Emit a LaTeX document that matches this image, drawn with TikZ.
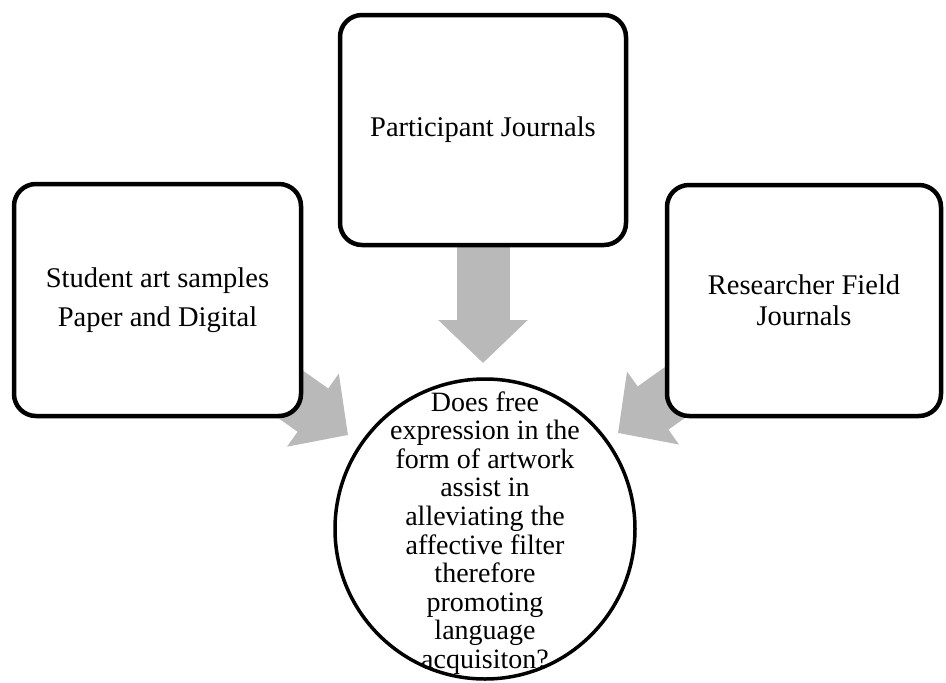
\documentclass[tikz,border=0pt]{standalone}
\usepackage{fontspec}
\setmainfont{Liberation Serif}
\usetikzlibrary{arrows.meta}
\pgfdeclarelayer{background}
\pgfsetlayers{background,main}
\definecolor{arrowgray}{RGB}{185,185,185}
\tikzset{
  srcbox/.style={draw=black, line width=4.5pt, fill=white, rounded corners=22pt,
    align=center, inner sep=0pt, font=\fontsize{28.5}{31}\selectfont},
  qcircle/.style={draw=black, line width=3.5pt, fill=white, circle, inner sep=0pt,
    minimum size=300pt},
  qtext/.style={align=center, inner sep=0pt, font=\fontsize{28}{28.6}\selectfont},
  blockarrow/.style={draw=arrowgray, line width=53pt,
    -{Triangle[width=87pt,length=43pt]}}
}
\begin{document}
\begin{tikzpicture}[x=1pt,y=-1pt]
\useasboundingbox (0,0) rectangle (946,683);
\node[srcbox, minimum width=287pt, minimum height=232pt, font=\fontsize{28.5}{39}\selectfont] (left) at (157.5,300) {Student art samples\\Paper and Digital};
\node[srcbox, minimum width=286pt, minimum height=230pt] (top) at (483,130) {Participant Journals};
\node[srcbox, minimum width=274pt, minimum height=231pt] (right) at (804,300.5) {Researcher Field\\Journals};
\node[qcircle] (q) at (485,529) {};
\node[qtext] (qt) at (485,533) {Does free\\expression in the\\form of artwork\\assist in\\alleviating the\\affective filter\\therefore\\promoting\\language\\acquisiton?};
\coordinate (lt) at (348,435);
\coordinate (rt) at (618,433);
\coordinate (dt) at (483,363);
\begin{pgfonlayer}{background}
\fill[white] (0,0) rectangle (946,683);
\draw[blockarrow] (left.center) -- (lt);
\draw[blockarrow] (right.center) -- (rt);
\draw[blockarrow] (top.center) -- (dt);
\end{pgfonlayer}
\end{tikzpicture}
\end{document}
